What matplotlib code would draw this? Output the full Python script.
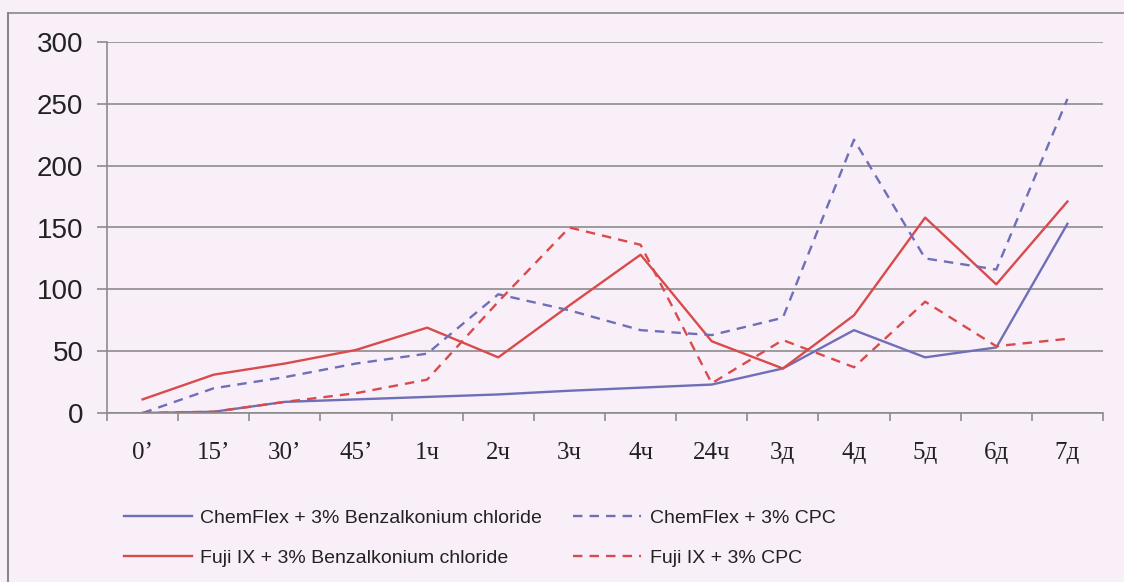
import matplotlib
matplotlib.use("Agg")
import matplotlib.pyplot as plt
from matplotlib.lines import Line2D
import numpy as np

categories = ["0’", "15’", "30’", "45’", "1ч", "2ч", "3ч", "4ч", "24ч", "3д", "4д", "5д", "6д", "7д"]
chemflex_bac = [0, 1, 9, 11, 13, 15, 18, 20.5, 23, 36, 67, 45, 53, 153]
chemflex_cpc = [0, 20, 29, 40, 48, 96, 83, 67, 63, 77, 221, 125, 116, 254]
fuji_bac = [11, 31, 40, 51, 69, 45, 87, 128, 58, 36, 79, 158, 104, 171]
fuji_cpc = [0, 1, 9, 16, 27, 90, 150, 136, 24, 59, 37, 90, 54, 60]
y_ticks = [0, 50, 100, 150, 200, 250, 300]

bg = "#f9eff9"
blue = "#6f6fb8"
red = "#d94b4b"
grid_c = "#8c8c8c"

fig = plt.figure(figsize=(11.24, 5.82), dpi=100, facecolor=bg)
ax = fig.add_axes([107/1124, 1 - 413/582, (1103-107)/1124, (413-42)/582])
ax.set_facecolor(bg)

x = np.arange(len(categories))
ax.plot(x, chemflex_bac, color=blue, lw=1.7, label="ChemFlex + 3% Benzalkonium chloride")
ax.plot(x, fuji_bac, color=red, lw=1.7, label="Fuji IX + 3% Benzalkonium chloride")
ax.plot(x, chemflex_cpc, color=blue, lw=1.7, ls=(0, (4, 3)), label="ChemFlex + 3% CPC")
ax.plot(x, fuji_cpc, color=red, lw=1.7, ls=(0, (4, 3)), label="Fuji IX + 3% CPC")

ax.set_xlim(-0.5, len(categories) - 0.5)
ax.set_ylim(0, 300)
ax.set_yticks(y_ticks)
ax.set_yticklabels([str(v) for v in y_ticks], fontsize=20, family="Liberation Sans", color="#222222")
ax.yaxis.grid(True, color=grid_c, lw=1.2)
ax.set_axisbelow(True)

ax.set_xticks(x)
ax.set_xticklabels(categories, fontsize=18, family="Liberation Serif", color="#222222")
ax.set_xticks(np.arange(-0.5, len(categories) + 0.5, 1), minor=True)
ax.tick_params(axis="x", which="major", length=0, pad=21)
ax.tick_params(axis="x", which="minor", length=6, color=grid_c, width=1.2, direction="out")
ax.tick_params(axis="y", length=7, color=grid_c, width=1.2, pad=10)

for s in ["top", "right"]:
    ax.spines[s].set_visible(False)
for s in ["left", "bottom"]:
    ax.spines[s].set_color(grid_c)
    ax.spines[s].set_linewidth(1.2)

handles, labels = ax.get_legend_handles_labels()
leg = fig.legend(handles, labels, ncol=2, loc="center left",
                 bbox_to_anchor=(106/1124, 1 - 538/582), frameon=False,
                 prop={"family": "Liberation Sans", "size": 14},
                 handlelength=3.5, columnspacing=1.6, labelspacing=1.15, handletextpad=0.45)
for t in leg.get_texts():
    t.set_color("#222222")

fig.add_artist(Line2D([8/1124, 8/1124], [0, 1 - 13/582], transform=fig.transFigure, color="#888888", lw=1.5))
fig.add_artist(Line2D([8/1124, 1], [1 - 13/582, 1 - 13/582], transform=fig.transFigure, color="#888888", lw=1.2))

fig.savefig("out.png", dpi=100, facecolor=bg)
